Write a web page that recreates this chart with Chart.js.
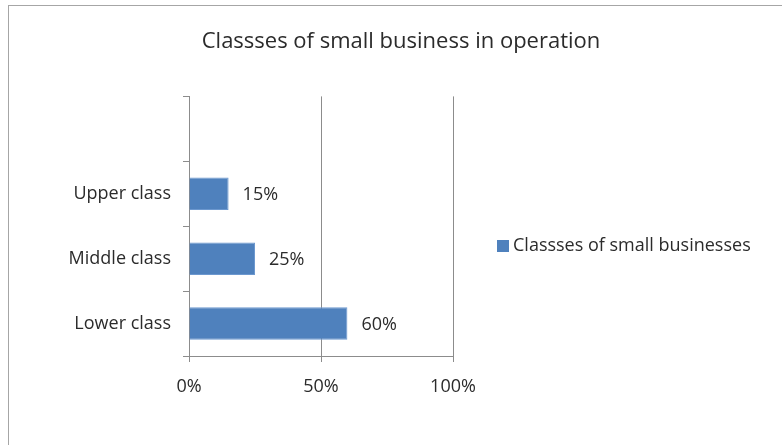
<!DOCTYPE html>
<html>
<head>
<meta charset="utf-8">
<script src="https://cdn.jsdelivr.net/npm/chart.js@4/dist/chart.umd.min.js"></script>
<style>
    html, body { margin: 0; padding: 0; background: #fff; overflow: hidden; }
    #wrap { position: relative; width: 782px; height: 445px; }
    #frame {
        position: absolute; left: 8px; top: 5px; width: 800px; height: 500px;
        border-top: 1px solid #a6a6a6; border-left: 1px solid #a6a6a6;
        pointer-events: none;
    }
</style>
</head>
<body>
<div id="wrap">
    <canvas id="chart" width="782" height="445"></canvas>
    <div id="frame"></div>
</div>
<script>
// Data
const categories = ['', 'Upper class', 'Middle class', 'Lower class'];
const shares = [null, 15, 25, 60];
const seriesName = 'Classses of small businesses';
const xTicks = [0, 50, 100];

const axisGray = '#8c8c8c';
const textColor = '#2b2b2b';
const fontFamily = "'Open Sans', 'DejaVu Sans', sans-serif";

// percentage labels to the right of each bar
const barLabels = {
    id: 'barLabels',
    afterDatasetsDraw(chart) {
        const ctx = chart.ctx;
        const meta = chart.getDatasetMeta(0);
        ctx.save();
        ctx.font = '18px ' + fontFamily;
        ctx.fillStyle = textColor;
        ctx.textAlign = 'left';
        ctx.textBaseline = 'middle';
        meta.data.forEach((bar, i) => {
            const v = chart.data.datasets[0].data[i];
            if (v == null) return;
            ctx.fillText(v + '%', bar.x + 14, bar.y + 1);
        });
        ctx.restore();
    }
};

// legend drawn to the right of the plot
const sideLegend = {
    id: 'sideLegend',
    afterDraw(chart) {
        const ctx = chart.ctx;
        const ds = chart.data.datasets[0];
        const x = chart.chartArea.right + 44;
        const y = 246;
        ctx.save();
        ctx.fillStyle = ds.backgroundColor;
        ctx.fillRect(x, y - 6, 12, 12);
        ctx.font = '18px ' + fontFamily;
        ctx.fillStyle = textColor;
        ctx.textAlign = 'left';
        ctx.textBaseline = 'middle';
        ctx.fillText(ds.label, x + 16, y);
        ctx.restore();
    }
};

new Chart(document.getElementById('chart'), {
    type: 'bar',
    data: {
        labels: categories,
        datasets: [{
            label: seriesName,
            data: shares,
            backgroundColor: '#4f81bd',
            borderColor: '#6c98cf',
            borderWidth: 1,
            categoryPercentage: 0.5,
            barPercentage: 1
        }]
    },
    options: {
        indexAxis: 'y',
        responsive: false,
        animation: false,
        layout: { padding: { left: 20, right: 0, top: 0, bottom: 0 } },
        scales: {
            x: {
                min: 0,
                max: 100,
                afterBuildTicks: s => { s.ticks = xTicks.map(v => ({ value: v })); },
                afterFit: s => { s.height = 89; },
                grid: { color: axisGray, tickLength: 6, lineWidth: 1 },
                border: { display: true, color: axisGray },
                ticks: {
                    padding: 14,
                    color: textColor,
                    font: { family: fontFamily, size: 18 },
                    callback: v => v + '%'
                }
            },
            y: {
                afterFit: s => { s.width = 169; },
                grid: { drawOnChartArea: false, drawTicks: true, tickLength: 6, color: axisGray, offset: true },
                border: { display: true, color: axisGray },
                ticks: {
                    padding: 12,
                    color: textColor,
                    font: { family: fontFamily, size: 18 }
                }
            },
            side: {
                type: 'category',
                labels: categories,
                position: 'right',
                afterFit: s => { s.width = 329; },
                grid: { display: false },
                border: { display: false },
                ticks: { display: false }
            }
        },
        plugins: {
            legend: { display: false },
            tooltip: { enabled: false },
            title: {
                display: true,
                text: 'Classses of small business in operation',
                color: textColor,
                font: { family: fontFamily, size: 22, weight: 'normal' },
                padding: { top: 29, bottom: 41 }
            }
        }
    },
    plugins: [barLabels, sideLegend]
});
</script>
</body>
</html>
